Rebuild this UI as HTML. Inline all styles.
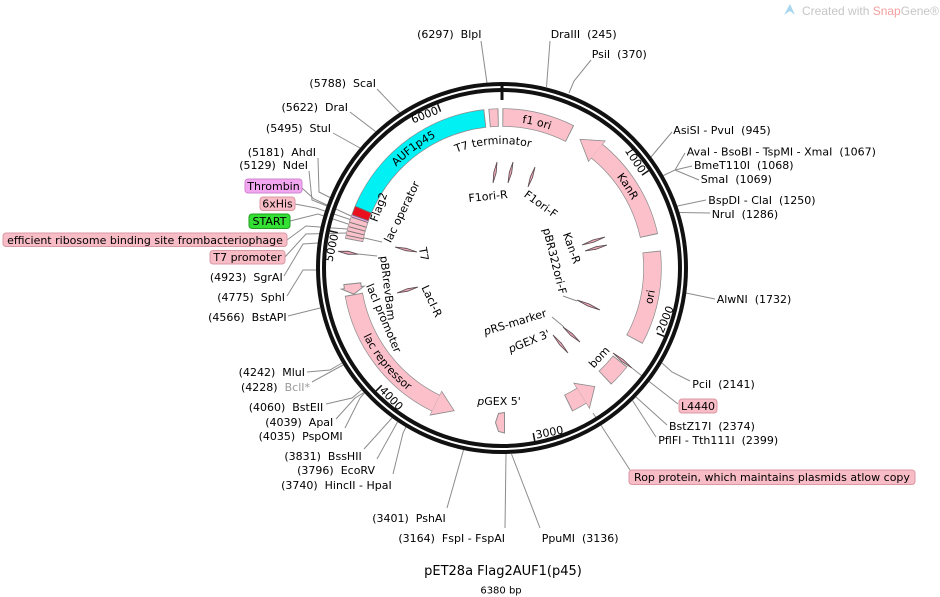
<!DOCTYPE html>
<html><head><meta charset="utf-8"><style>
html,body{margin:0;padding:0;background:#fff;}
svg{display:block;}
text{font-family:"DejaVu Sans","Liberation Sans",sans-serif;font-size:11px;fill:#000;white-space:pre;}
.ld{fill:none;stroke:#8c8c8c;stroke-width:1;}
.pr{fill:#eaa6b6;stroke:#5a4a4e;stroke-width:0.8;}
</style></head><body>
<svg width="940" height="597" viewBox="0 0 940 597" xmlns="http://www.w3.org/2000/svg" xml:space="preserve">
<defs>
<path id="cw" d="M502,121.5 A146.5,146.5 0 1 1 502,414.5 A146.5,146.5 0 1 1 502,121.5"/>
<path id="ccw" d="M502,113.5 A154.5,154.5 0 1 0 502,422.5 A154.5,154.5 0 1 0 502,113.5"/>
<path id="t7p" d="M502,392 A124,124 0 1 1 502,144 A124,124 0 1 1 502,392"/>
</defs>

<!-- watermark -->
<polygon points="784,15 790,4 795,15 790,11" fill="#a9d6ee"/>
<text x="802" y="15" style="font-family:'Liberation Sans',sans-serif;font-size:12px;fill:#c6c6c6">Created with <tspan fill="#f2a0a0">Snap</tspan>Gene®</text>

<!-- leader lines -->
<polyline class="ld" points="481,41 487,83"/>
<polyline class="ld" points="550,41 546.5,87"/>
<polyline class="ld" points="591,60 574,81 569,93"/>
<polyline class="ld" points="377,89 399.5,112.5"/>
<polyline class="ld" points="350,112 375.5,131.5"/>
<polyline class="ld" points="333,133 360,148"/>
<polyline class="ld" points="318,158 319,192 330,197.5"/>
<polyline class="ld" points="309,171 312,200 327,206"/>
<polyline class="ld" points="302,188 314,199 351,216"/>
<polyline class="ld" points="295,204 316,208 350,219.5"/>
<polyline class="ld" points="290,221 318,214 348,224"/>
<polyline class="ld" points="287,240 306,226 347,229"/>
<polyline class="ld" points="285,257 306,234 346,233"/>
<polyline class="ld" points="284,276 303,244 318,243"/>
<polyline class="ld" points="287,296 303,270 316,270"/>
<polyline class="ld" points="288,316 320,308"/>
<polyline class="ld" points="307,372 330,370 342,363"/>
<polyline class="ld" points="312,382 343,365"/>
<polyline class="ld" points="326,404 352,398 361.5,390"/>
<polyline class="ld" points="336,419 355,398 364,392.5"/>
<polyline class="ld" points="345,428 360,398 364.5,393"/>
<polyline class="ld" points="364,449 392,418"/>
<polyline class="ld" points="377,459 397.5,422"/>
<polyline class="ld" points="393,474 403,433 406,427"/>
<polyline class="ld" points="447,508 463.5,450"/>
<polyline class="ld" points="505,528 506,454"/>
<polyline class="ld" points="540,528 511.5,454"/>
<polyline class="ld" points="672,132 651,157"/>
<polyline class="ld" points="685,153 675,170 663.5,175.5"/>
<polyline class="ld" points="692,166 675,170"/>
<polyline class="ld" points="699,180 675,170"/>
<polyline class="ld" points="706,200 677.5,206"/>
<polyline class="ld" points="710,213 679.5,212.5"/>
<polyline class="ld" points="715,299 686,293"/>
<polyline class="ld" points="690,381 672,372 662,363"/>
<polyline class="ld" points="678,404 637,372 632,368"/>
<polyline class="ld" points="667,425 636,397"/>
<polyline class="ld" points="656,437 632.5,400.5"/>
<polyline class="ld" points="630,470 593,413"/>
<!-- inner leaders -->
<polyline class="ld" points="360,237 382,242"/>
<polyline class="ld" points="358,254 377,256"/>
<polyline class="ld" points="563,296 577,301"/>
<polyline class="ld" points="552,317 564,327"/>

<!-- backbone ring -->
<circle cx="502" cy="268" r="181" fill="none" stroke="#111" stroke-width="10"/>
<circle cx="502" cy="268" r="181" fill="none" stroke="#fff" stroke-width="2"/>
<line x1="502" y1="86" x2="502" y2="100" stroke="#111" stroke-width="3"/>
<g stroke="#111" stroke-width="1.5">
<line x1="502" y1="92" x2="502" y2="100" transform="rotate(56.426 502 268)"/>
<line x1="502" y1="92" x2="502" y2="100" transform="rotate(112.853 502 268)"/>
<line x1="502" y1="92" x2="502" y2="100" transform="rotate(169.279 502 268)"/>
<line x1="502" y1="92" x2="502" y2="100" transform="rotate(225.705 502 268)"/>
<line x1="502" y1="92" x2="502" y2="100" transform="rotate(282.132 502 268)"/>
<line x1="502" y1="92" x2="502" y2="100" transform="rotate(338.558 502 268)"/>
</g>
<g style="font-size:10.5px">
<text x="500" y="101" text-anchor="end" transform="rotate(56.426 502 268)">1000</text>
<text x="504" y="442" transform="rotate(-67.147 502 268)">2000</text>
<text x="504" y="442" transform="rotate(-10.721 502 268)">3000</text>
<text x="504" y="442" transform="rotate(45.705 502 268)">4000</text>
<text x="500" y="101" text-anchor="end" transform="rotate(282.132 502 268)">5000</text>
<text x="500" y="101" text-anchor="end" transform="rotate(338.558 502 268)">6000</text>
</g>

<!-- feature outlines -->
<g transform="rotate(-90 502 268)" fill="none" stroke="#8c8c8c" stroke-width="18.4">
<circle cx="502" cy="268" r="150.5" stroke-dasharray="70.13 1000" stroke-dashoffset="-0.39"/>
<circle cx="502" cy="268" r="150.5" stroke-dasharray="9.46 1000" stroke-dashoffset="-932.35"/>
<circle cx="502" cy="268" r="150.5" stroke-dasharray="191.75 1000" stroke-dashoffset="-736.66"/>
<circle cx="502" cy="268" r="150.5" stroke-dasharray="102.44 1000" stroke-dashoffset="-101.52"/>
<circle cx="502" cy="268" r="150.5" stroke-dasharray="91.15 1000" stroke-dashoffset="-219.72"/>
<circle cx="502" cy="268" r="150.5" stroke-dasharray="22.85 1000" stroke-dashoffset="-336.62"/>
<circle cx="502" cy="268" r="150.5" stroke-dasharray="16.29 1000" stroke-dashoffset="-387.84"/>
<circle cx="502" cy="268" r="150.5" stroke-dasharray="142.37 1000" stroke-dashoffset="-540.18"/>
</g>
<!-- arrowheads -->
<g fill="#fbc0ca" stroke="#8c8c8c" stroke-width="1">
<polygon points="502,104.5 481.83,118.86 502,130.5" transform="rotate(39 502 268)"/>
<polygon points="502,104.5 482.62,118.75 502,130.5" transform="rotate(206 502 268)"/>
<polygon points="502,103 486.27,118.32 502,132" transform="rotate(148 502 268)"/>
<polygon points="506.16,109.05 502,109 502,106 495.44,117.64 502,129 502,126 505.72,126.05" transform="rotate(262.5 502 268)"/>
<polygon points="498.5,413.5 504.5,412.5 504.5,433 498.5,431.5 495.5,422.5"/>
</g>
<!-- feature fills -->
<g transform="rotate(-90 502 268)" fill="none" stroke-width="17">
<circle cx="502" cy="268" r="150.5" stroke="#fbc0ca" stroke-dasharray="68.29 1000" stroke-dashoffset="-1.31"/>
<circle cx="502" cy="268" r="150.5" stroke="#fbc0ca" stroke-dasharray="7.62 1000" stroke-dashoffset="-933.27"/>
<circle cx="502" cy="268" r="150.5" stroke="#00f0f4" stroke-dasharray="158.39 1000" stroke-dashoffset="-769.1"/>
<circle cx="502" cy="268" r="150.5" stroke="#ea0f1e" stroke-dasharray="8.67 1000" stroke-dashoffset="-760.44"/>
<circle cx="502" cy="268" r="150.5" stroke="#f0a4f0" stroke-dasharray="2.1 1000" stroke-dashoffset="-758.35"/>
<circle cx="502" cy="268" r="150.5" stroke="#fbc0ca" stroke-dasharray="20.75 1000" stroke-dashoffset="-737.58"/>
<circle cx="502" cy="268" r="150.5" stroke="#fbc0ca" stroke-dasharray="100.6 1000" stroke-dashoffset="-102.44"/>
<circle cx="502" cy="268" r="150.5" stroke="#fbc0ca" stroke-dasharray="89.31 1000" stroke-dashoffset="-220.64"/>
<circle cx="502" cy="268" r="150.5" stroke="#fbc0ca" stroke-dasharray="21.01 1000" stroke-dashoffset="-337.53"/>
<circle cx="502" cy="268" r="150.5" stroke="#fbc0ca" stroke-dasharray="14.45 1000" stroke-dashoffset="-388.75"/>
<circle cx="502" cy="268" r="150.5" stroke="#fbc0ca" stroke-dasharray="140.53 1000" stroke-dashoffset="-541.1"/>
</g>
<g fill="#fbc0ca" stroke="none">
<polygon points="502,105 482.3,118.86 502,130" transform="rotate(39 502 268)"/>
<polygon points="502,105 483.1,118.75 502,130" transform="rotate(206 502 268)"/>
<polygon points="502,103.5 486.8,118.32 502,131.5" transform="rotate(148 502 268)"/>
</g>
<!-- dividers in stack -->
<g stroke="#707070" stroke-width="0.9">
<line x1="502" y1="109.5" x2="502" y2="126.5" transform="rotate(292.8 502 268)"/>
<line x1="502" y1="109.5" x2="502" y2="126.5" transform="rotate(289.5 502 268)"/>
<line x1="502" y1="109.5" x2="502" y2="126.5" transform="rotate(288.7 502 268)"/>
<line x1="502" y1="109.5" x2="502" y2="126.5" transform="rotate(286.7 502 268)"/>
<line x1="502" y1="109.5" x2="502" y2="126.5" transform="rotate(285.1 502 268)"/>
<line x1="502" y1="109.5" x2="502" y2="126.5" transform="rotate(283.5 502 268)"/>
<line x1="502" y1="109.5" x2="502" y2="126.5" transform="rotate(281.9 502 268)"/>
</g>

<!-- primers -->
<polygon class="pr" points="497,162 496.2,172.7 493,183 493.8,172.3"/>
<polygon class="pr" points="513,162 511.7,172.8 508,183 509.3,172.2"/>
<polygon class="pr" points="535,167 532.6,177.4 528,187 530.4,176.6"/>
<polygon class="pr" points="605,237 593.9,242.1 582,245 593.1,239.9"/>
<polygon class="pr" points="607,245 596.3,249.2 585,251 595.7,246.8"/>
<polygon class="pr" points="600,310 588,306.1 577,300 589,303.9"/>
<polygon class="pr" points="580,342 570.7,335.4 563,327 572.3,333.6"/>
<polygon class="pr" points="568,353 559.6,344.8 553,335 561.4,343.2"/>
<polygon class="pr" points="632,368 621.8,361.4 613,353 623.2,359.6"/>
<polygon class="pr" points="395,247 405.7,250.7 417,252 406.3,248.3"/>
<polygon class="pr" points="397,293 407.8,291.2 418,287 407.2,288.8"/>
<polygon class="pr" points="338,251.3 347.8,254.3 358,254.2 348.2,251.2"/>

<!-- band labels -->
<text><textPath href="#cw" startOffset="3.75%" text-anchor="middle">f1 ori</textPath></text>
<text><textPath href="#cw" startOffset="15.83%" text-anchor="middle">KanR</textPath></text>
<text><textPath href="#cw" startOffset="89.86%" text-anchor="middle">AUF1p45</textPath></text>
<text><textPath href="#ccw" startOffset="71.94%" text-anchor="middle">ori</textPath></text>
<text><textPath href="#ccw" startOffset="35.92%" text-anchor="middle">lac repressor</textPath></text>
<text><textPath href="#t7p" startOffset="48.85%" text-anchor="middle">T7 terminator</textPath></text>

<!-- inner labels -->
<text x="378.5" y="211" text-anchor="middle" transform="rotate(-70 378.5 207)">Flag2</text>
<text x="401.7" y="215.7" text-anchor="middle" transform="rotate(-64 401.7 211.7)">lac operator</text>
<text x="424" y="258" text-anchor="middle" transform="rotate(80 424 254)">T7</text>
<text x="388" y="292" text-anchor="middle" transform="rotate(83 388 288)">pBRrevBam</text>
<text x="384" y="322" text-anchor="middle" transform="rotate(67 384 318)">lacI promoter</text>
<text x="432" y="305" text-anchor="middle" transform="rotate(65 432 301)">LacI-R</text>
<text x="488" y="200" text-anchor="middle" transform="rotate(-6 488 196)">F1ori-R</text>
<text x="541" y="208" text-anchor="middle" transform="rotate(36 541 204)">F1ori-F</text>
<text x="572" y="252" text-anchor="middle" transform="rotate(70 572 248)">Kan-R</text>
<text x="555" y="265" text-anchor="middle" transform="rotate(76 555 261)">pBR322ori-F</text>
<text x="515" y="326" text-anchor="middle" transform="rotate(-17 515 322)"><tspan font-style="italic">p</tspan>RS-marker</text>
<text x="529" y="345" text-anchor="middle" transform="rotate(-22 529 341)"><tspan font-style="italic">p</tspan>GEX 3'</text>
<text x="599" y="361" text-anchor="middle" transform="rotate(-47 599 357)">bom</text>
<text x="499" y="405" text-anchor="middle"><tspan font-style="italic">p</tspan>GEX 5'</text>

<!-- outer labels -->
<text x="481.5" y="38" text-anchor="end">(6297)  BlpI</text>
<text x="550.7" y="38">DraIII  (245)</text>
<text x="591.7" y="58">PsiI  (370)</text>
<text x="376" y="87" text-anchor="end">(5788)  ScaI</text>
<text x="348" y="111" text-anchor="end">(5622)  DraI</text>
<text x="331" y="132" text-anchor="end">(5495)  StuI</text>
<text x="316" y="156" text-anchor="end">(5181)  AhdI</text>
<text x="308" y="169" text-anchor="end">(5129)  NdeI</text>

<rect x="245" y="179" width="57" height="14" rx="3" fill="#f2a6f0" stroke="#cf86cf"/>
<text x="273.5" y="190" text-anchor="middle">Thrombin</text>
<rect x="260" y="197" width="35" height="13.5" rx="3" fill="#f8bcc6" stroke="#d89aa4"/>
<text x="277.5" y="207.5" text-anchor="middle">6xHis</text>
<rect x="249" y="214" width="41" height="14.5" rx="3" fill="#33e033" stroke="#1f9e1f"/>
<text x="269.5" y="225" text-anchor="middle">START</text>
<rect x="3" y="233" width="284" height="13.5" rx="3" fill="#f8bcc6" stroke="#d89aa4"/>
<text x="145" y="244" text-anchor="middle">efficient ribosome binding site frombacteriophage</text>
<rect x="210" y="250.5" width="75" height="13.5" rx="3" fill="#f8bcc6" stroke="#d89aa4"/>
<text x="247.5" y="261" text-anchor="middle">T7 promoter</text>

<text x="282.7" y="281" text-anchor="end">(4923)  SgrAI</text>
<text x="285" y="301" text-anchor="end">(4775)  SphI</text>
<text x="286.7" y="321" text-anchor="end">(4566)  BstAPI</text>
<text x="305" y="376" text-anchor="end">(4242)  MluI</text>
<text x="310" y="391" text-anchor="end">(4228)  <tspan fill="#999999">BclI*</tspan></text>
<text x="323.3" y="411" text-anchor="end">(4060)  BstEII</text>
<text x="333.3" y="426" text-anchor="end">(4039)  ApaI</text>
<text x="342.7" y="440" text-anchor="end">(4035)  PspOMI</text>
<text x="361.7" y="460" text-anchor="end">(3831)  BssHII</text>
<text x="375" y="474" text-anchor="end">(3796)  EcoRV</text>
<text x="391.7" y="489" text-anchor="end">(3740)  HincII - HpaI</text>
<text x="445.7" y="522" text-anchor="end">(3401)  PshAI</text>
<text x="505" y="542" text-anchor="end">(3164)  FspI - FspAI</text>
<text x="541.7" y="542">PpuMI  (3136)</text>

<text x="673.3" y="134">AsiSI - PvuI  (945)</text>
<text x="686.7" y="155.5">AvaI - BsoBI - TspMI - XmaI  (1067)</text>
<text x="694" y="169">BmeT110I  (1068)</text>
<text x="700.7" y="183">SmaI  (1069)</text>
<text x="708.3" y="204">BspDI - ClaI  (1250)</text>
<text x="711.7" y="218">NruI  (1286)</text>
<text x="716.7" y="303">AlwNI  (1732)</text>
<text x="692.3" y="388">PciI  (2141)</text>
<rect x="679" y="399" width="38" height="14" rx="3" fill="#f8bcc6" stroke="#d89aa4"/>
<text x="698" y="410" text-anchor="middle">L4440</text>
<text x="669" y="430">BstZ17I  (2374)</text>
<text x="658.3" y="444">PflFI - Tth111I  (2399)</text>
<rect x="629" y="470" width="286" height="14.5" rx="3" fill="#f8bcc6" stroke="#d89aa4"/>
<text x="772" y="481" text-anchor="middle">Rop protein, which maintains plasmids atlow copy</text>

<!-- title -->
<text x="503" y="575" text-anchor="middle" style="font-size:13px">pET28a Flag2AUF1(p45)</text>
<text x="501" y="593.5" text-anchor="middle" style="font-size:10px">6380 bp</text>
</svg>
</body></html>
